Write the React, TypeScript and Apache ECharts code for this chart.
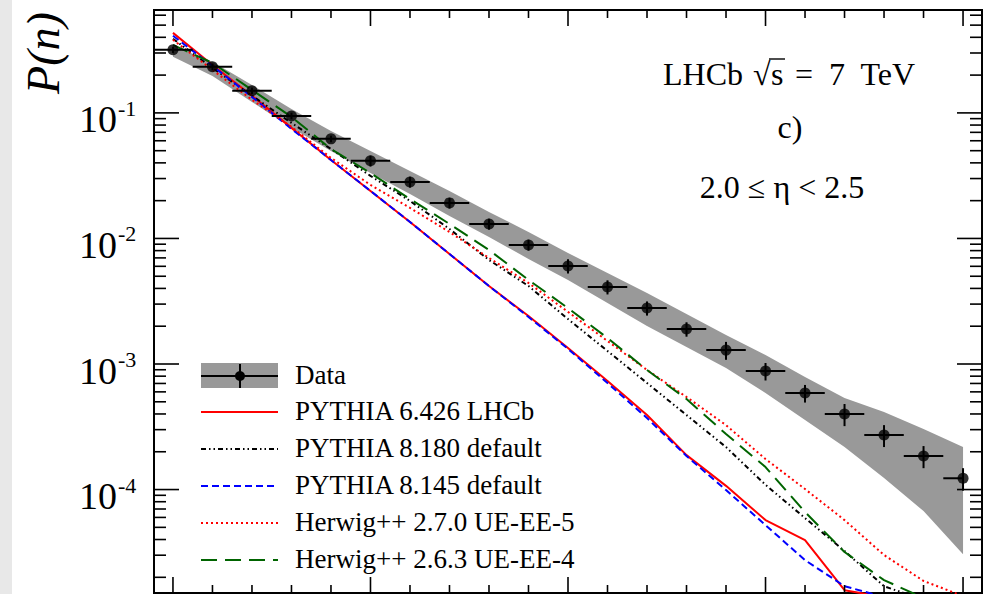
import React, { useEffect, useRef } from "react";
import * as echarts from "echarts";

// ---------------- data ----------------
const multiplicity = [0, 1, 2, 3, 4, 5, 6, 7, 8, 9, 10, 11, 12, 13, 14, 15, 16, 17, 18, 19, 20];

const dataP = [0.318, 0.233, 0.15, 0.0946, 0.0621, 0.0415, 0.0282, 0.0192, 0.01305, 0.00888, 0.00604,
  0.00411, 0.00279, 0.0019, 0.00129, 0.000879, 0.000587, 0.0004, 0.000272, 0.000185, 0.000123];
const statErr = [0.019, 0.014, 0.009, 0.0057, 0.0037, 0.0041, 0.0028, 0.0019, 0.0013, 0.00089, 0.00079,
  0.00053, 0.00036, 0.00025, 0.00021, 0.00014, 0.000094, 0.00008, 0.000054, 0.000037, 0.000025];
const binHalfLow = [0.5, 0.5, 0.5, 0.5, 0.5, 0.5, 0.5, 0.5, 0.5, 0.5, 0.5, 0.5, 0.5, 0.5, 0.5, 0.5, 0.5, 0.5, 0.5, 0.5, 0.5];
const binHalfHigh = [0.5, 0.5, 0.5, 0.5, 0.5, 0.5, 0.5, 0.5, 0.5, 0.5, 0.5, 0.5, 0.5, 0.5, 0.5, 0.5, 0.5, 0.5, 0.5, 0.5, 0];
const sysHigh = [0.342, 0.255, 0.167, 0.1076, 0.0719, 0.0498, 0.0345, 0.0239, 0.01627, 0.01126, 0.00766,
  0.00531, 0.00368, 0.0025, 0.0017, 0.00118, 0.000788, 0.000536, 0.000415, 0.000303, 0.000218];
const sysLow = [0.2794, 0.1971, 0.1224, 0.076, 0.0498, 0.0332, 0.02262, 0.01511, 0.01028, 0.00687, 0.00467,
  0.00306, 0.00201, 0.001366, 0.000929, 0.000587, 0.000358, 0.000218, 0.0001234, 0.0000674, 0.0000306];

const pythia6426 = [0.434, 0.241, 0.137, 0.076, 0.0422, 0.0239, 0.01353, 0.00752, 0.00418, 0.00241, 0.00134,
  0.000732, 0.000392, 0.000188, 0.000107, 0.0000571, 0.0000396, 0.0000158, 0.0000139, null, null];
const pythia8180 = [0.389, 0.228, 0.137, 0.0832, 0.0516, 0.0315, 0.0199, 0.0119, 0.00674, 0.00418, 0.00228,
  0.00127, 0.000706, 0.000392, 0.000218, 0.000109, 0.0000593, 0.0000324, 0.000017, 0.0000132, null];
const pythia8145 = [0.411, 0.237, 0.134, 0.0746, 0.0422, 0.0239, 0.01353, 0.00752, 0.00418, 0.00237, 0.00132,
  0.000706, 0.000371, 0.000185, 0.0000991, 0.0000521, 0.0000274, 0.000017, 0.0000139, null, null];
const herwig270 = [0.382, 0.22, 0.127, 0.0774, 0.0438, 0.0267, 0.0175, 0.01126, 0.00699, 0.00442, 0.0026,
  0.001525, 0.000896, 0.000546, 0.000326, 0.000175, 0.000101, 0.0000571, 0.0000301, 0.0000187, 0.0000142];
const herwig263 = [0.348, 0.25, 0.1525, 0.0929, 0.0516, 0.0332, 0.0206, 0.01305, 0.0081, 0.00467, 0.00279,
  0.00161, 0.000896, 0.000526, 0.000277, 0.000151, 0.0000662, 0.0000318, 0.000019, 0.0000137, null];

const yTickPowers = [-1, -2, -3, -4];
const legendLabels = ["Data", "PYTHIA 6.426 LHCb", "PYTHIA 8.180 default", "PYTHIA 8.145 default",
  "Herwig++ 2.7.0 UE-EE-5", "Herwig++ 2.6.3 UE-EE-4"];

// ---------------- styling ----------------
const X_MIN = -0.48, X_MAX = 20.48, Y_MIN = 1.5e-5, Y_MAX = 0.66;
const FONT = "Liberation Serif";
const BAND = "#999999";
const GREEN = "#006400";
const ANN = 32;

const modelStyles = [
  { values: pythia6426, color: "#ff0000", dash: "solid" as any, width: 2 },
  { values: pythia8180, color: "#000000", dash: [5, 3, 1.5, 3, 1.5, 3], width: 2 },
  { values: pythia8145, color: "#0000ff", dash: [7, 4], width: 2 },
  { values: herwig270, color: "#ff0000", dash: [2, 3], width: 2 },
  { values: herwig263, color: GREEN, dash: [16, 8], width: 2 },
];

function annText(text: string, x: number, y: number, align: string) {
  return {
    type: "text", x, y,
    style: { text, fontSize: ANN, fontFamily: FONT, fill: "#000", textAlign: align, textVerticalAlign: "middle" },
  };
}

function buildOption(): any {
  const lineSeries = modelStyles.map((m, idx) => ({
    type: "line",
    name: legendLabels[idx + 1],
    data: multiplicity.map((n, i) => [n, m.values[i]]).filter((d) => d[1] != null),
    showSymbol: false,
    symbol: "none",
    clip: true,
    silent: true,
    z: 3,
    lineStyle: { color: m.color, width: m.width, type: m.dash, cap: "butt" },
  }));

  const bandSeries = {
    type: "custom",
    name: "band",
    silent: true,
    z: 1,
    data: [[multiplicity[0], dataP[0]]],
    encode: { x: 0, y: 1 },
    renderItem: (params: any, api: any) => {
      if (params.dataIndex !== 0) return null;
      const pts: number[][] = [];
      multiplicity.forEach((n, i) => pts.push(api.coord([n, sysHigh[i]])));
      for (let i = multiplicity.length - 1; i >= 0; i--) pts.push(api.coord([multiplicity[i], sysLow[i]]));
      return { type: "polygon", shape: { points: pts }, style: { fill: BAND, stroke: null } };
    },
  };

  const errSeries = {
    type: "custom",
    name: "errors",
    silent: true,
    z: 5,
    data: multiplicity.map((n, i) => [n, dataP[i], statErr[i], binHalfLow[i], binHalfHigh[i]]),
    encode: { x: 0, y: 1 },
    renderItem: (params: any, api: any) => {
      const n = api.value(0), v = api.value(1), e = api.value(2), lo = api.value(3), hi = api.value(4);
      const l = api.coord([n - lo, v]);
      const r = api.coord([n + hi, v]);
      const t = api.coord([n, v + e]);
      const b = api.coord([n, v - e]);
      const st = { stroke: "#000", lineWidth: 2 };
      return {
        type: "group",
        children: [
          { type: "line", shape: { x1: l[0], y1: l[1], x2: r[0], y2: r[1] }, style: st },
          { type: "line", shape: { x1: t[0], y1: t[1], x2: b[0], y2: b[1] }, style: st },
        ],
      };
    },
  };

  const scatterSeries = {
    type: "scatter",
    name: "Data",
    data: multiplicity.map((n, i) => [n, dataP[i]]),
    symbol: "circle",
    symbolSize: 11,
    itemStyle: { color: "#000" },
    silent: true,
    z: 6,
  };

  const decoSeries = {
    type: "custom",
    name: "axes",
    silent: true,
    z: 10,
    data: [[0, 0.01]],
    encode: { x: 0, y: 1 },
    renderItem: (params: any, api: any) => {
      if (params.dataIndex !== 0) return null;
      const ch: any[] = [];
      const [left, bottom] = api.coord([X_MIN, Y_MIN]);
      const [right, top] = api.coord([X_MAX, Y_MAX]);
      const ls = { stroke: "#000", lineWidth: 1.6 };
      for (let p = -6; p <= 0; p++) {
        for (let k = 1; k <= 9; k++) {
          const v = k * Math.pow(10, p);
          if (v < Y_MIN || v > Y_MAX) continue;
          const y = api.coord([0, v])[1];
          const len = k === 1 ? 25 : 12;
          ch.push({ type: "line", shape: { x1: left, y1: y, x2: left + len, y2: y }, style: ls });
          ch.push({ type: "line", shape: { x1: right - len, y1: y, x2: right, y2: y }, style: ls });
        }
      }
      multiplicity.forEach((n) => {
        const x = api.coord([n, Y_MIN])[0];
        const len = n % 5 === 0 ? 16 : 8;
        ch.push({ type: "line", shape: { x1: x, y1: bottom, x2: x, y2: bottom - len }, style: ls });
        ch.push({ type: "line", shape: { x1: x, y1: top, x2: x, y2: top + len }, style: ls });
      });
      yTickPowers.forEach((p) => {
        const y = api.coord([0, Math.pow(10, p)])[1];
        ch.push({
          type: "text",
          x: left - 37,
          y: y + 6.5,
          style: {
            text: "10", fontSize: 38, fontFamily: FONT, fill: "#000",
            align: "right", verticalAlign: "middle", textAlign: "right", textVerticalAlign: "middle",
          },
        });
        ch.push({
          type: "text",
          x: left - 36,
          y: y - 4.5,
          style: {
            text: String(p), fontSize: 22, fontFamily: FONT, fill: "#000",
            align: "left", verticalAlign: "middle", textAlign: "left", textVerticalAlign: "middle",
          },
        });
      });
      return { type: "group", children: ch };
    },
  };

  // legend (graphic)
  const rowY = [376, 412, 449, 486, 523, 560];
  const lx1 = 201, lx2 = 278, tx = 295;
  const legend: any[] = [];
  legend.push({ type: "rect", shape: { x: lx1, y: 363, width: lx2 - lx1, height: 25 }, style: { fill: BAND } });
  legend.push({ type: "line", shape: { x1: lx1, y1: rowY[0], x2: lx2, y2: rowY[0] }, style: { stroke: "#000", lineWidth: 2 } });
  legend.push({ type: "line", shape: { x1: 240, y1: 364, x2: 240, y2: 388 }, style: { stroke: "#000", lineWidth: 2 } });
  legend.push({ type: "circle", shape: { cx: 240, cy: rowY[0], r: 5 }, style: { fill: "#000" } });
  modelStyles.forEach((m, i) => {
    legend.push({
      type: "line",
      shape: { x1: lx1, y1: rowY[i + 1], x2: lx2, y2: rowY[i + 1] },
      style: { stroke: m.color, lineWidth: m.width, lineDash: m.dash === "solid" ? null : m.dash },
    });
  });
  legendLabels.forEach((t, i) => {
    legend.push({
      type: "text", x: tx, y: rowY[i] - 1,
      style: { text: t, fontSize: 27, fontFamily: FONT, fill: "#000", textAlign: "left", textVerticalAlign: "middle" },
    });
  });

  const graphic: any[] = [
    { type: "rect", shape: { x: 0, y: 0, width: 12, height: 594 }, style: { fill: "#e8e8e8" }, z: -10 },
    {
      type: "text", x: 43, y: 53, rotation: Math.PI / 2,
      style: {
        text: "P(n)", fontSize: 46, fontStyle: "italic", fontFamily: FONT, fill: "#000",
        textAlign: "center", textVerticalAlign: "middle",
      },
    },
    annText("LHCb", 663, 74, "left"),
    annText("\u221A", 753, 74, "left"),
    annText("s", 771, 74, "left"),
    { type: "line", shape: { x1: 769, y1: 59, x2: 785, y2: 59 }, style: { stroke: "#000", lineWidth: 1.4 } },
    annText("=  7  TeV", 915, 74, "right"),
    annText("c)", 790, 127, "center"),
    annText("2.0 \u2264 \u03B7 < 2.5", 782, 187, "center"),
    ...legend,
  ];

  return {
    animation: false,
    backgroundColor: "#ffffff",
    textStyle: { fontFamily: FONT },
    grid: { left: 154, right: 5, top: 10, bottom: 1, show: true, borderColor: "#000", borderWidth: 2, backgroundColor: "transparent" },
    xAxis: { type: "value", min: X_MIN, max: X_MAX, show: false },
    yAxis: { type: "log", logBase: 10, min: Y_MIN, max: Y_MAX, show: false },
    series: [bandSeries, ...lineSeries, errSeries, scatterSeries, decoSeries],
    graphic,
  };
}

export default function App() {
  const ref = useRef<HTMLDivElement>(null);
  useEffect(() => {
    if (!ref.current) return;
    const chart = echarts.init(ref.current, undefined, { renderer: "svg" });
    chart.setOption(buildOption());
    return () => chart.dispose();
  }, []);
  return (
    <div
      ref={ref}
      style={{ position: "fixed", left: 0, top: 0, width: 987, height: 594, background: "#fff" }}
    />
  );
}
